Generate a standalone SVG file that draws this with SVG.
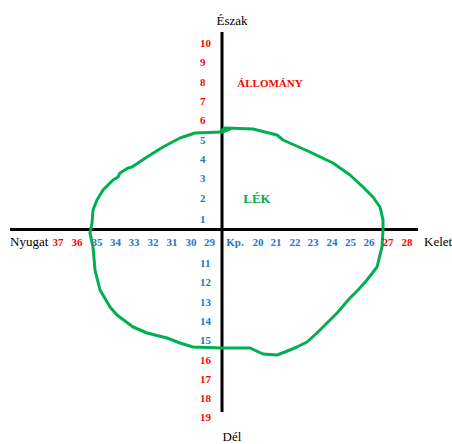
<svg xmlns="http://www.w3.org/2000/svg" width="452" height="444" viewBox="0 0 452 444">
<style>
.ax{stroke:#000;stroke-width:3;fill:none}
.lek{stroke:#00b050;stroke-width:3;fill:none;stroke-linejoin:round;stroke-linecap:round}
text{font-family:"Liberation Serif","Times New Roman",serif}
.n{font-size:11px;font-weight:bold;text-anchor:middle}
.v{font-size:11px;font-weight:bold;text-anchor:start}
.b{fill:#2478c4}
.r{fill:#ff0000}
.lbl{font-size:13px;fill:#000}
</style>
<rect width="452" height="444" fill="#fff"/>
<g id="connectors">
<line class="ax" x1="222" y1="32" x2="222" y2="412"/>
<line class="ax" x1="10" y1="229.5" x2="418" y2="229.5"/>
</g>
<g id="lek-boundary">
<polyline class="lek" points="220,132 225,128 253,129 277,135 283,140 310,152 333,163 350,175 363,187 373,197 380,207 383,220 383,230 382,247 377,267 367,280 358,290 350,298 338,312 330,320 317,333 307,342 297,347 285,352 277,355 263,354 250,348 222,348 193,347 180,343 167,338 147,333 133,327 117,315 110,307 100,290 95,270 93,247 90,233 92,223 93,210 97,200 103,190 113,180 118,177 120,173 128,168 132,167 147,157 163,147 180,138 195,133 222,132 230,129"/>
</g>
<g id="labels">
<text class="lbl" x="232" y="25" text-anchor="middle">Észak</text>
<text class="lbl" x="232" y="441" text-anchor="middle">Dél</text>
<text class="lbl" x="10" y="246">Nyugat</text>
<text class="lbl" x="424" y="246">Kelet</text>
<text x="270" y="87" font-size="11" font-weight="bold" fill="#ff0000" text-anchor="middle">ÁLLOMÁNY</text>
<text x="257" y="203" font-size="13" font-weight="bold" fill="#00b050" text-anchor="middle">LÉK</text>
</g>
<g id="west-numbers">
<text class="n r" x="58" y="246">37</text>
<text class="n r" x="77" y="246">36</text>
<text class="n b" x="97" y="246">35</text>
<text class="n b" x="115.5" y="246">34</text>
<text class="n b" x="134" y="246">33</text>
<text class="n b" x="153" y="246">32</text>
<text class="n b" x="172" y="246">31</text>
<text class="n b" x="191" y="246">30</text>
<text class="n b" x="209.5" y="246">29</text>
</g>
<g id="east-numbers">
<text class="n b" x="235" y="246">Kp.</text>
<text class="n b" x="258" y="246">20</text>
<text class="n b" x="276" y="246">21</text>
<text class="n b" x="295" y="246">22</text>
<text class="n b" x="313" y="246">23</text>
<text class="n b" x="332" y="246">24</text>
<text class="n b" x="350.5" y="246">25</text>
<text class="n b" x="369" y="246">26</text>
<text class="n r" x="388" y="246">27</text>
<text class="n r" x="407" y="246">28</text>
</g>
<g id="north-numbers">
<text class="v r" x="200" y="47">10</text>
<text class="v r" x="200" y="66">9</text>
<text class="v r" x="200" y="86">8</text>
<text class="v r" x="200" y="105">7</text>
<text class="v r" x="200" y="124">6</text>
<text class="v b" x="200" y="144">5</text>
<text class="v b" x="200" y="163">4</text>
<text class="v b" x="200" y="182">3</text>
<text class="v b" x="200" y="202">2</text>
<text class="v b" x="200" y="223">1</text>
</g>
<g id="south-numbers">
<text class="v b" x="200" y="267">11</text>
<text class="v b" x="200" y="286">12</text>
<text class="v b" x="200" y="306">13</text>
<text class="v b" x="200" y="325">14</text>
<text class="v b" x="200" y="344">15</text>
<text class="v r" x="200" y="364">16</text>
<text class="v r" x="200" y="383">17</text>
<text class="v r" x="200" y="402">18</text>
<text class="v r" x="200" y="421">19</text>
</g>
</svg>
